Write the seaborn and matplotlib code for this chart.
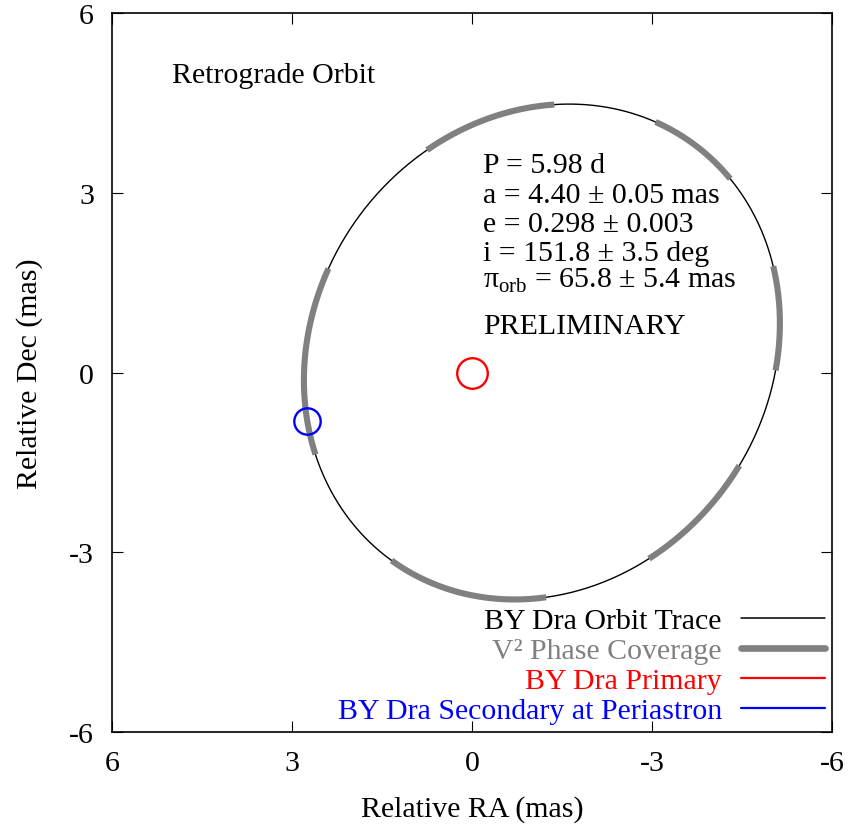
import numpy as np
import pandas as pd
import seaborn as sns
import matplotlib.pyplot as plt
from matplotlib.lines import Line2D

# Orbital elements (a, e, i as printed; omega / Omega)
period_d = 5.98
a_mas = 4.40
ecc = 0.298
incl_deg = 151.8
omega_deg = 52.6
node_deg = 155.6

# V^2 phase coverage: start / end in orbital phase (0 = periastron)
phase_start = [-0.016, 0.152, 0.319, 0.486, 0.654, 0.821]
phase_end = [0.072, 0.239, 0.400, 0.574, 0.748, 0.917]

primary_ra = [0.0]
primary_dec = [0.0]

labels = ["BY Dra Orbit Trace", "V\u00b2 Phase Coverage",
          "BY Dra Primary", "BY Dra Secondary at Periastron"]
info_lines = ["P = 5.98 d",
              "a = 4.40 \u00b1 0.05 mas",
              "e = 0.298 \u00b1 0.003",
              "i = 151.8 \u00b1 3.5 deg",
              "\u03c0$_{\\mathrm{orb}}$ = 65.8 \u00b1 5.4 mas"]
ticks = [6, 3, 0, -3, -6]

GRAY = "#808080"
FS = 21.5


def thiele_innes(a, w, W, i):
    w, W, i = np.radians([w, W, i])
    A = a * (np.cos(w) * np.cos(W) - np.sin(w) * np.sin(W) * np.cos(i))
    B = a * (np.cos(w) * np.sin(W) + np.sin(w) * np.cos(W) * np.cos(i))
    F = a * (-np.sin(w) * np.cos(W) - np.cos(w) * np.sin(W) * np.cos(i))
    G = a * (-np.sin(w) * np.sin(W) + np.cos(w) * np.cos(W) * np.cos(i))
    return A, B, F, G


A, B, F, G = thiele_innes(a_mas, omega_deg, node_deg, incl_deg)


def orbit_xy(E):
    X = np.cos(E) - ecc
    Y = np.sqrt(1 - ecc ** 2) * np.sin(E)
    return B * X + G * Y, A * X + F * Y   # RA, Dec


def kepler(M):
    E = np.array(M, dtype=float)
    for _ in range(30):
        E = E - (E - ecc * np.sin(E) - M) / (1 - ecc * np.cos(E))
    return E


E_all = np.linspace(0, 2 * np.pi, 721)
ra, dec = orbit_xy(E_all)
df_orbit = pd.DataFrame({"ra": ra, "dec": dec})

sec_ra, sec_dec = orbit_xy(np.array([0.0]))

sns.set_style("ticks")
plt.rcParams["font.family"] = ["Liberation Serif", "DejaVu Serif"]
plt.rcParams["mathtext.fontset"] = "custom"
plt.rcParams["mathtext.rm"] = "Liberation Serif"
plt.rcParams["axes.unicode_minus"] = False
plt.rcParams["text.color"] = "black"
plt.rcParams["axes.labelcolor"] = "black"
plt.rcParams["xtick.color"] = "black"
plt.rcParams["ytick.color"] = "black"

fig = plt.figure(figsize=(8.51, 8.28), dpi=100)
ax = fig.add_axes([0.13161, 0.11473, 0.84606, 0.86836])

sns.lineplot(data=df_orbit, x="ra", y="dec", sort=False, estimator=None,
             color="black", lw=1.0, ax=ax)

for p0, p1 in zip(phase_start, phase_end):
    E_seg = kepler(2 * np.pi * np.linspace(p0, p1, 80))
    sx, sy = orbit_xy(E_seg)
    ax.plot(sx, sy, color=GRAY, lw=4.4, solid_capstyle="butt", zorder=3)

ax.plot(primary_ra, primary_dec, "o", ms=22, mfc="none", mec="red", mew=1.7, zorder=4)
ax.plot(sec_ra, sec_dec, "o", ms=19, mfc="none", mec="blue", mew=1.7, zorder=4)

ax.set_xlim(6, -6)
ax.set_ylim(-6, 6)
ax.set_xticks(ticks)
ax.set_yticks(ticks)
ax.set_xticklabels([str(t) for t in ticks])
ax.set_yticklabels([str(t) for t in ticks])
ax.tick_params(direction="in", length=7.7, width=0.8, top=True, right=True,
               labelsize=FS, pad=13)
for sp in ax.spines.values():
    sp.set_linewidth(1.2)
    sp.set_color("black")

ax.set_xlabel("Relative RA (mas)", fontsize=FS, labelpad=14)
ax.set_ylabel("Relative Dec (mas)", fontsize=FS, labelpad=19)

ax.text(0.0833, 0.904, "Retrograde Orbit", transform=ax.transAxes,
        fontsize=FS, va="baseline", ha="left")
info_y = [0.7784, 0.7367, 0.6972, 0.6569, 0.6189]
for txt, yy in zip(info_lines, info_y):
    ax.text(0.5157, yy, txt, transform=ax.transAxes, fontsize=FS,
            va="baseline", ha="left")
ax.text(0.5157, 0.5549, "PRELIMINARY", transform=ax.transAxes, fontsize=FS,
        va="baseline", ha="left")

handles = [Line2D([], [], color="black", lw=1.1),
           Line2D([], [], color=GRAY, lw=4.8),
           Line2D([], [], color="red", lw=1.6),
           Line2D([], [], color="blue", lw=1.6)]
ax.legend(handles, labels, loc="lower right", bbox_to_anchor=(0.990, 0.011),
          frameon=False, markerfirst=False, labelcolor="linecolor",
          handlelength=2.8, handletextpad=0.65, labelspacing=0.1,
          borderpad=0, borderaxespad=0, fontsize=FS)

fig.savefig("out.png", dpi=100)
